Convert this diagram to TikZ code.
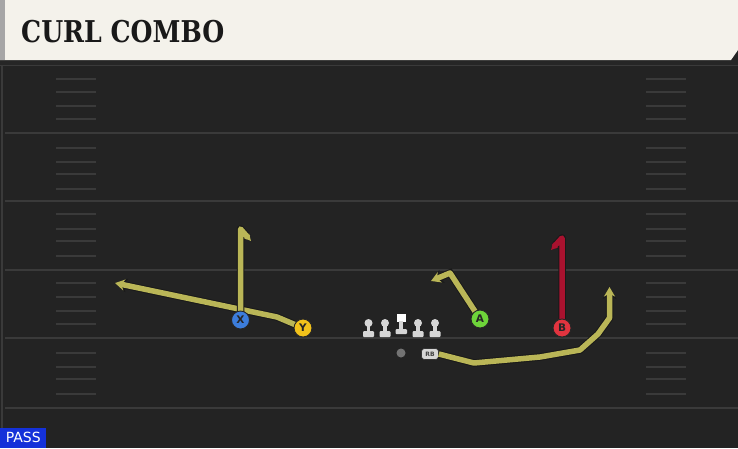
\documentclass[tikz,border=0pt]{standalone}
\usepackage{fontspec}
\setsansfont{DejaVu Sans}
\newfontfamily\titlefont{DejaVu Serif}
\usetikzlibrary{arrows.meta}
\definecolor{fieldbg}{HTML}{232323}
\definecolor{fieldline}{HTML}{3A3A3A}
\definecolor{headbg}{HTML}{F4F2EB}
\definecolor{routeolive}{HTML}{BAB657}
\definecolor{routered}{HTML}{A9122F}
\definecolor{xblue}{HTML}{3C7DDB}
\definecolor{ygold}{HTML}{F2C21B}
\definecolor{agreen}{HTML}{6ED43A}
\definecolor{bred}{HTML}{E2343F}
\definecolor{passblue}{HTML}{1431D9}
\definecolor{olgrey}{HTML}{D6D6D6}
\tikzset{%
  >={Stealth[length=3pt 1.2,width=4pt 1.3]},
  % Specifications for style of nodes:
      player/.style = {circle, draw=black!85, line width=0.9pt,
                       minimum size=18pt, inner sep=0pt,
                       font=\sffamily\bfseries\fontsize{10.5}{10.5}\selectfont, text=black!85},
   backfield/.style = {rectangle, rounded corners=3pt, draw=black!80, line width=0.6pt,
                       fill=olgrey, minimum width=17pt, minimum height=11pt, inner sep=0pt,
                       font=\sffamily\bfseries\fontsize{6}{6}\selectfont, text=black!75},
   routeline/.style = {draw=routeolive, line width=5.5pt, line join=round, line cap=butt},
       route/.style = {routeline, preaction={draw=black!90, line width=7.5pt}},
    curlhead/.style = {>={Stealth[length=7pt,width=7pt]}},
   curlunder/.style = {draw=black!90, line width=7.5pt, line join=round, line cap=butt,
                       >={Stealth[length=8pt,width=8.5pt]}},
    yardline/.style = {draw=fieldline, line width=1.5pt},
        hash/.style = {draw=fieldline, line width=1.2pt},
}
\begin{document}
\begin{tikzpicture}[x=1pt, y=-1pt]
  \useasboundingbox (0,0) rectangle (738,448);
  % field and header
  \fill[fieldbg] (0,0) rectangle (738,448);
  \fill[black!85] (0,60) rectangle (738,65);
  \draw[fieldline, line width=1pt] (0,65.5) -- (738,65.5);
  \draw[fieldline, line width=1.5pt] (2,65) -- (2,448);
  \fill[headbg] (0,0) -- (738,0) -- (738,50) -- (731,60) -- (0,60) -- cycle;
  \fill[black!35] (0,0) rectangle (5,60);
  \node (title) [anchor=base west, inner sep=0pt, text=black!90]
    at (21,42) {\scalebox{0.84}[1]{\titlefont\bfseries\fontsize{30}{30}\selectfont CURL COMBO}};

  % yard lines and hash marks
  \foreach \y in {133,201,270,338,408}
    \draw[yardline] (5,\y) -- (738,\y);
  \foreach \y in {79,92,106,119,148,162,174,189,214,229,241,256,283,297,311,324,353,367,379,394}{
    \draw[hash] (56,\y) -- (96,\y);
    \draw[hash] (646,\y) -- (686,\y);
  }

  % offensive line
  \foreach \x in {368.5,385,418,435}{
    \fill[olgrey] (\x,323) circle (4);
    \fill[olgrey] (\x-1.8,323) rectangle (\x+1.8,333);
    \fill[olgrey, rounded corners=1pt] (\x-5.5,331) rectangle (\x+5.5,337);
  }
  \fill[white] (397,313.5) rectangle (405.5,322);
  \fill[olgrey] (399.4,321) rectangle (403,331);
  \fill[olgrey, rounded corners=1pt] (395.5,329) rectangle (407,334);

  % Specification of nodes (position, etc.)
  \node (QB) [circle, fill=black!55, minimum size=9pt, inner sep=0pt] at (401,353) {};
  \node (RB) [backfield] at (430,354) {RB};

  \coordinate (xtop) at (240.5,229);
  \coordinate (xend) at (251,241);
  \coordinate (ybend) at (277,317);
  \coordinate (yend) at (115,283);
  \coordinate (abend) at (450,273);
  \coordinate (aend) at (431,281);
  \coordinate (btop) at (562,238);
  \coordinate (bend) at (551,250);

  % routes
  \draw[route, ->] (303,328) -- (ybend) -- (yend);
  \draw[curlunder, ->] (240.5,320) -- (xtop) -- (xend);
  \draw[routeline, curlhead, ->] (240.5,320) -- (xtop) -- (xend);
  \draw[route, ->] (480,319) -- (abend) -- (aend);
  \draw[curlunder, ->] (562,328) -- (btop) -- (bend);
  \draw[routeline, curlhead, draw=routered, ->] (562,328) -- (btop) -- (bend);
  \draw[route, ->] (RB.east) -- (474,363) -- (540,357) -- (580,350)
     -- (598,334) -- (609.5,318) -- (609.5,287);

  % receivers
  \node (X) [player, fill=xblue]  at (240.5,320) {X};
  \node (Y) [player, fill=ygold]  at (303,328)   {Y};
  \node (A) [player, fill=agreen] at (480,319)   {A};
  \node (B) [player, fill=bred]   at (562,328)   {B};

  % play type
  \node (pass) [anchor=south west, fill=passblue, text=white, inner xsep=3pt, inner ysep=2pt,
    minimum width=46pt, minimum height=20pt, font=\sffamily\fontsize{14}{14}\selectfont]
    at (0,448) {PASS};
\end{tikzpicture}
\end{document}
